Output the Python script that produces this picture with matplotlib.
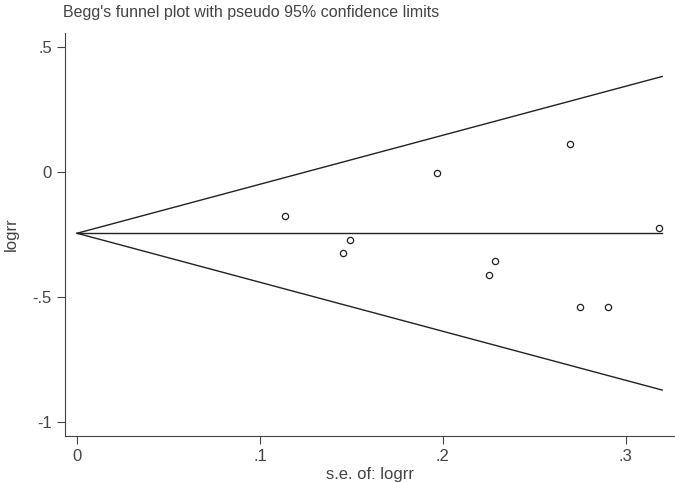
import matplotlib.pyplot as plt
import numpy as np

plt.rcParams['font.family'] = ['Liberation Sans', 'DejaVu Sans']

# standard error and log relative risk
se = [0.1135, 0.149, 0.1456, 0.1969, 0.2288, 0.2253, 0.2698, 0.2753, 0.2903, 0.318]
logrr = [-0.175, -0.273, -0.325, -0.004, -0.355, -0.412, 0.112, -0.539, -0.539, -0.223]
pooled = -0.245
se_max = 0.32

xticks = [0, 0.1, 0.2, 0.3]
xticklabels = ['0', '.1', '.2', '.3']
yticks = [0.5, 0, -0.5, -1]
yticklabels = ['.5', '0', '-.5', '-1']

fig = plt.figure(figsize=(6.75, 4.82), dpi=100)
ax = fig.add_axes([0.0963, 0.0954, 0.9037, 0.8361])

s = np.array([0, se_max])
ax.plot(s, pooled + 1.96 * s, color='#222222', lw=1)
ax.plot(s, pooled - 1.96 * s, color='#222222', lw=1)
ax.plot(s, [pooled, pooled], color='#222222', lw=1)
ax.plot(se, logrr, 'o', ms=4.5, mfc='none', mec='#222222', mew=0.9)

ax.set_xlim(-0.0066, 0.327)
ax.set_ylim(-1.056, 0.556)
ax.set_xticks(xticks)
ax.set_xticklabels(xticklabels)
ax.set_yticks(yticks)
ax.set_yticklabels(yticklabels)
for side in ['top', 'right']:
    ax.spines[side].set_visible(False)
for side in ['left', 'bottom']:
    ax.spines[side].set_color('#444444')
ax.tick_params(colors='#444444', labelcolor='#444444', length=6, labelsize=12)
ax.set_xlabel('s.e. of: logrr', color='#444444', fontsize=12, labelpad=2)
ax.set_ylabel('logrr', color='#444444', fontsize=12, va='center')
ax.yaxis.set_label_coords(-0.088, 0.5)
fig.text(0.093, 0.99, "Begg's funnel plot with pseudo 95% confidence limits",
         color='#444444', fontsize=11.5, va='top', ha='left')

fig.savefig('out.png', dpi=100)
